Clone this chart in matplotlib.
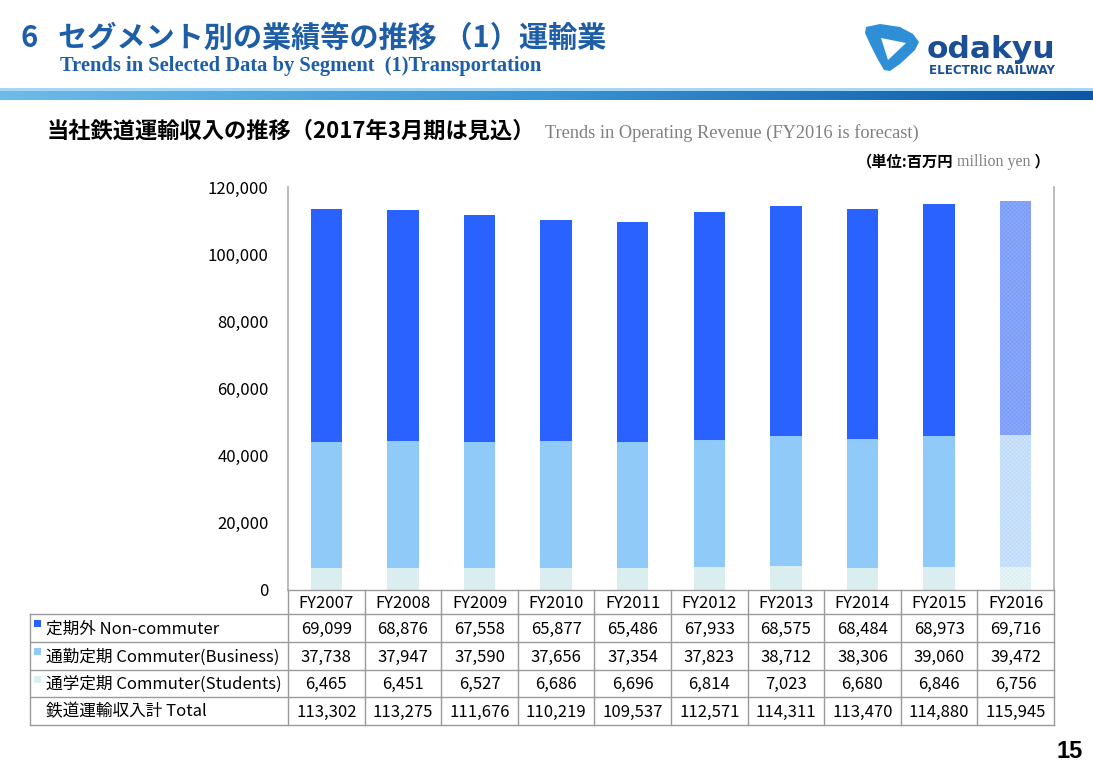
import matplotlib
matplotlib.use("Agg")
import matplotlib.pyplot as plt
import numpy as np
from matplotlib.patches import Polygon, Rectangle
from matplotlib.colors import LinearSegmentedColormap

plt.rcParams['font.family'] = ['Noto Sans CJK JP', 'DejaVu Sans']
plt.rcParams['hatch.linewidth'] = 0.35

# ---------------- data ----------------
years = ["FY2007", "FY2008", "FY2009", "FY2010", "FY2011",
         "FY2012", "FY2013", "FY2014", "FY2015", "FY2016"]
non_commuter = [69099, 68876, 67558, 65877, 65486, 67933, 68575, 68484, 68973, 69716]
commuter_business = [37738, 37947, 37590, 37656, 37354, 37823, 38712, 38306, 39060, 39472]
commuter_students = [6465, 6451, 6527, 6686, 6696, 6814, 7023, 6680, 6846, 6756]
totals = [113302, 113275, 111676, 110219, 109537, 112571, 114311, 113470, 114880, 115945]
series_labels = ["定期外 Non-commuter", "通勤定期 Commuter(Business)", "通学定期 Commuter(Students)"]
total_label = "鉄道運輸収入計 Total"
y_ticks = [0, 20000, 40000, 60000, 80000, 100000, 120000]
forecast_year = "FY2016"

title_jp = "6   セグメント別の業績等の推移 （1）運輸業"
title_en = "Trends in Selected Data by Segment  (1)Transportation"
chart_title_jp = "当社鉄道運輸収入の推移（2017年3月期は見込）"
chart_title_en = "Trends in Operating Revenue (FY2016 is forecast)"
page_no = "15"

# ---------------- styles ----------------
c_non = "#2962FF"
c_bus = "#90CAF9"
c_stu = "#DAEEF0"
c_non_f = "#8AA8FA"
c_bus_f = "#CCE3FB"
c_stu_f = "#E8F5F6"
title_blue = "#1E5EA6"

W, H = 1093, 771
fig = plt.figure(figsize=(W / 100, H / 100), dpi=100)

# pixel layout
ax_l, ax_r, ax_t, ax_b = 288, 1054, 187, 590
ax = fig.add_axes([ax_l / W, 1 - ax_b / H, (ax_r - ax_l) / W, (ax_b - ax_t) / H])

x = np.arange(len(years))
stu = np.array(commuter_students)
bus = np.array(commuter_business)
non = np.array(non_commuter)
fc = [y == forecast_year for y in years]
bw = 0.41
for i in range(len(years)):
    if fc[i]:
        ax.bar(x[i], stu[i], bw, color=c_stu_f, edgecolor="#d6ecee", hatch="xxxxxxxx", linewidth=0)
        ax.bar(x[i], bus[i], bw, bottom=stu[i], color=c_bus_f, edgecolor="#b9d8f8", hatch="xxxxxxxx", linewidth=0)
        ax.bar(x[i], non[i], bw, bottom=stu[i] + bus[i], color=c_non_f, edgecolor="#7496f5", hatch="xxxxxxxx", linewidth=0)
    else:
        ax.bar(x[i], stu[i], bw, color=c_stu, linewidth=0)
        ax.bar(x[i], bus[i], bw, bottom=stu[i], color=c_bus, linewidth=0)
        ax.bar(x[i], non[i], bw, bottom=stu[i] + bus[i], color=c_non, linewidth=0)

ax.set_xlim(-0.5, len(years) - 0.5)
ax.set_ylim(0, 120000)
ax.set_yticks(y_ticks)
ax.set_yticklabels([f"{v:,}" for v in y_ticks], fontsize=12)
ax.tick_params(axis="y", length=0, pad=14)
ax.set_xticks([])
for s in ["top", "bottom"]:
    ax.spines[s].set_visible(False)
for s in ["left", "right"]:
    ax.spines[s].set_color("#b5b5b5")
    ax.spines[s].set_linewidth(1.3)

# ---------------- overlay for header and table ----------------
ov = fig.add_axes([0, 0, 1, 1])
ov.set_xlim(0, W)
ov.set_ylim(H, 0)
ov.axis("off")
ov.patch.set_alpha(0)

# gradient bar
grad = LinearSegmentedColormap.from_list("g", ["#6cbbe8", "#3a93d2", "#0c57a5"])
ov.imshow(np.linspace(0, 1, 256)[None, :], cmap=grad, extent=[0, W, 100, 90], aspect="auto")
ov.add_patch(Rectangle((0, 88), W, 2.5, color="#a8d6f2", lw=0))
ov.set_xlim(0, W)
ov.set_ylim(H, 0)

ov.text(21, 38, title_jp, fontsize=21, fontweight="bold", color=title_blue, va="center", ha="left")
ov.text(60, 66, title_en, fontsize=14.8, fontweight="bold", color=title_blue, va="center", ha="left",
        family="Liberation Serif")

# logo
outer = Polygon([(866, 27), (880, 24), (900, 27), (913, 34), (919, 42), (915, 50),
                 (900, 64), (890, 71), (884, 70), (877, 58), (870, 44), (865, 33)],
                closed=True, color="#2f8fd6", lw=0)
ov.add_patch(outer)
inner = Polygon([(881, 38), (906, 43), (888, 60)], closed=True, color="white", lw=0)
ov.add_patch(inner)
ov.text(927, 58, "odakyu", fontsize=22.5, fontweight="bold", color="#1b4f95", va="baseline", ha="left",
        family="DejaVu Sans")
ov.text(929, 70, "ELECTRIC RAILWAY", fontsize=8.6, fontweight="bold", color="#1b4f95", va="center",
        ha="left", family="DejaVu Sans")

# chart titles
ov.text(47, 131, chart_title_jp, fontsize=16, fontweight="bold", color="black", va="center", ha="left")
ov.text(545, 133, chart_title_en, fontsize=13.2, color="#808080", va="center", ha="left",
        family="Liberation Serif")
ov.text(953, 161, "（単位:百万円", fontsize=11, fontweight="bold", color="black", va="center", ha="right")
ov.text(957, 162, "million yen", fontsize=11.5, color="#808080", va="center", ha="left",
        family="Liberation Serif")
ov.text(1031, 161, " ）", fontsize=11, fontweight="bold", color="black", va="center", ha="left")

# table
n = len(years)
col_w = (ax_r - ax_l) / n
rows = [590, 614, 642, 670, 697, 725]
tbl_left = 30
lc = "#9a9a9a"
ov.plot([ax_l, ax_r], [rows[0], rows[0]], color=lc, lw=1)
for yy in rows[1:]:
    ov.plot([tbl_left, ax_r], [yy, yy], color=lc, lw=1)
ov.plot([tbl_left, tbl_left], [rows[1], rows[-1]], color=lc, lw=1)
for k in range(n + 1):
    xx = ax_l + k * col_w
    ov.plot([xx, xx], [rows[0], rows[-1]], color=lc, lw=1)

tfs = 12
for k, yr in enumerate(years):
    ov.text(ax_l + (k + 0.5) * col_w, (rows[0] + rows[1]) / 2 + 1, yr, fontsize=tfs, ha="center", va="center")
table_rows = [non_commuter, commuter_business, commuter_students, totals]
row_labels = series_labels + [total_label]
sq_colors = [c_non, c_bus, c_stu, None]
for r, (vals, lab, sc) in enumerate(zip(table_rows, row_labels, sq_colors)):
    yc = (rows[r + 1] + rows[r + 2]) / 2
    if sc is not None:
        ov.add_patch(Rectangle((34, yc - 8), 7, 7, color=sc, lw=0))
    ov.text(46, yc + 1, lab, fontsize=tfs, ha="left", va="center")
    for k, v in enumerate(vals):
        ov.text(ax_l + (k + 0.5) * col_w, yc + 1, f"{v:,}", fontsize=tfs, ha="center", va="center")

ov.text(1083, 752, page_no, fontsize=17, fontweight="bold", ha="right", va="center", family="Liberation Sans")

fig.savefig("out.png", dpi=100)
